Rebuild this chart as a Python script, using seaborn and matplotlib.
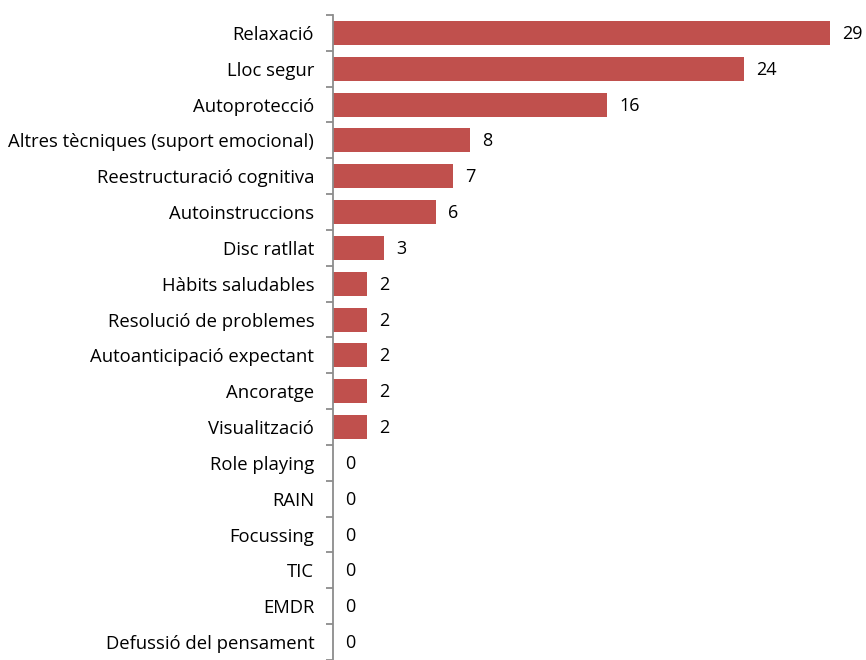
import matplotlib
matplotlib.use("Agg")
import matplotlib.pyplot as plt
import seaborn as sns
import numpy as np
import pandas as pd

categories = ["Relaxació", "Lloc segur", "Autoprotecció",
              "Altres tècniques (suport emocional)", "Reestructuració cognitiva",
              "Autoinstruccions", "Disc ratllat", "Hàbits saludables",
              "Resolució de problemes", "Autoanticipació expectant", "Ancoratge",
              "Visualització", "Role playing", "RAIN", "Focussing", "TIC", "EMDR",
              "Defussió del pensament"]
values = [29, 24, 16, 8, 7, 6, 3, 2, 2, 2, 2, 2, 0, 0, 0, 0, 0, 0]

sns.set_theme(style="white")
plt.rcParams['font.family'] = ['Open Sans', 'DejaVu Sans']

df = pd.DataFrame({"cat": categories, "val": values})

fig = plt.figure(figsize=(8.66, 6.6), dpi=100)
ax = fig.add_axes([333/866, 0.0, (864-333)/866, 1 - 15/660])
sns.barplot(data=df, y="cat", x="val", orient="h", color="#C0504D",
            saturation=1, width=0.67, ax=ax, edgecolor="none")

ax.set_xlim(0, 31)
ax.set_ylim(len(categories) - 0.5, -0.5)
ax.set_xlabel("")
ax.set_ylabel("")
ax.set_xticks([])
for s in ["top", "right", "bottom"]:
    ax.spines[s].set_visible(False)
ax.spines["left"].set_color("#8C8C8C")
ax.spines["left"].set_linewidth(1.3)

ax.tick_params(axis="y", which="major", left=False, length=0, pad=13.5, labelsize=13.3, labelcolor="#000000")
ax.set_yticks(np.arange(-0.5, len(categories), 1), minor=True)
ax.tick_params(axis="y", which="minor", left=True, length=5, width=1.3, color="#8C8C8C", direction="out")

for i, v in enumerate(values):
    ax.annotate(str(v), xy=(v, i), xytext=(12, -1), textcoords="offset pixels",
                va="center", ha="left", fontsize=13, color="#000000")

fig.savefig("out.png", dpi=100)
